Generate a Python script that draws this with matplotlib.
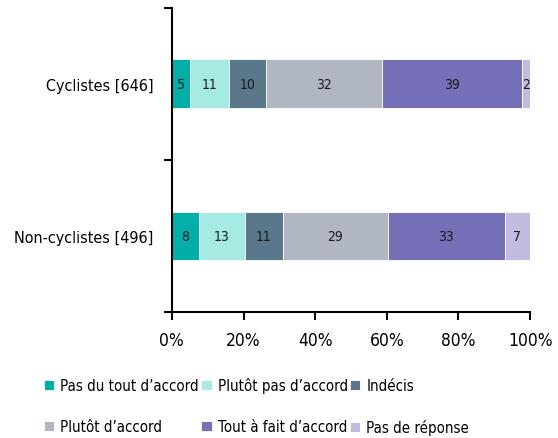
import matplotlib
matplotlib.use('Agg')
import matplotlib.pyplot as plt
import numpy as np

plt.rcParams['font.family'] = ['DejaVu Sans']
plt.rcParams['font.stretch'] = 'condensed'

groupes = ['Non-cyclistes [496]', 'Cyclistes [646]']
reponses = ['Pas du tout d’accord', 'Plutôt pas d’accord', 'Indécis',
            'Plutôt d’accord', 'Tout à fait d’accord', 'Pas de réponse']
couleurs = ['#00B0A8', '#A6EBE3', '#5A778C', '#B0B7C3', '#7570B8', '#C0BDE0']

# parts en %
non_cyclistes = [7.5, 12.8, 10.7, 29.3, 32.6, 7.1]
cyclistes = [5.0, 11.0, 10.3, 32.3, 39.1, 2.3]
etiq_non = ['8', '13', '11', '29', '33', '7']
etiq_cyc = ['5', '11', '10', '32', '39', '2']

valeurs = np.array([non_cyclistes, cyclistes])
valeurs = valeurs / valeurs.sum(axis=1, keepdims=True) * 100
etiquettes = [etiq_non, etiq_cyc]

fig = plt.figure(figsize=(5.58, 4.39), dpi=100)
ax = fig.add_axes([0.308, 0.287, 0.642, 0.693])

y = np.arange(len(groupes))
gauche = np.zeros(len(groupes))
barres = []
for k in range(len(reponses)):
    b = ax.barh(y, valeurs[:, k], left=gauche, height=0.32, color=couleurs[k],
                edgecolor='white', linewidth=0.6, label=reponses[k])
    barres.append(b)
    for i in range(len(groupes)):
        ax.text(gauche[i] + valeurs[i, k] / 2, y[i], etiquettes[i][k],
                ha='center', va='center', fontsize=10, color='#1a1a1a')
    gauche += valeurs[:, k]

ax.set_xlim(0, 100)
ax.set_ylim(-0.5, 1.5)
ax.set_xticks(np.arange(0, 101, 20))
ax.set_xticklabels([f'{v}%' for v in range(0, 101, 20)], fontsize=12.5)
ax.set_yticks(y)
ax.set_yticklabels(groupes, fontsize=11.5)
ax.tick_params(axis='y', length=0, pad=13)
ax.set_yticks([-0.5, 0.5, 1.5], minor=True)
ax.tick_params(axis='y', which='minor', length=6, width=1.5)
ax.tick_params(axis='x', length=6, width=1.5, pad=8)
for s in ['top', 'right']:
    ax.spines[s].set_visible(False)
ax.spines['left'].set_linewidth(1.5)
ax.spines['bottom'].set_linewidth(1.5)

ordre = [0, 3, 1, 4, 2, 5]
h = [barres[i] for i in ordre]
l = [reponses[i] for i in ordre]
fig.legend(h, l, loc='lower left', bbox_to_anchor=(0.054, -0.025), ncol=3,
           frameon=False, fontsize=10.8, handlelength=0.7, handleheight=0.7,
           handletextpad=0.4, columnspacing=0.15, labelspacing=1.75)

plt.savefig('out.png', dpi=100)
